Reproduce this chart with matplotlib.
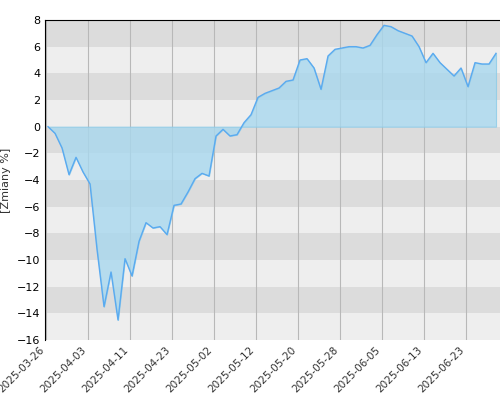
import matplotlib
matplotlib.use("Agg")
import matplotlib.pyplot as plt

values = [0, -0.5, -1.6, -3.6, -2.3, -3.4, -4.3, -9.2, -13.5, -10.9, -14.5, -9.9, -11.2, -8.6,
          -7.2, -7.6, -7.5, -8.1, -5.9, -5.8, -4.9, -3.9, -3.5, -3.7, -0.7, -0.2, -0.7, -0.6,
          0.3, 0.9, 2.2, 2.5, 2.7, 2.9, 3.4, 3.5, 5.0, 5.1, 4.4, 2.8, 5.3, 5.8, 5.9, 6.0, 6.0,
          5.9, 6.1, 6.9, 7.6, 7.5, 7.2, 7.0, 6.8, 6.0, 4.8, 5.5, 4.8, 4.3, 3.8, 4.4, 3.0, 4.8,
          4.7, 4.7, 5.5]
tick_labels = ["2025-03-26", "2025-04-03", "2025-04-11", "2025-04-23", "2025-05-02", "2025-05-12",
               "2025-05-20", "2025-05-28", "2025-06-05", "2025-06-13", "2025-06-23"]
yticks = list(range(-16, 9, 2))

fig = plt.figure(figsize=(5, 4), dpi=100)
ax = fig.add_axes([0.09, 0.15, 0.91, 0.80])
x = list(range(len(values)))
ax.set_xlim(-0.43, len(values) - 0.43)
ax.set_ylim(-16, 8)
for lo in range(-16, 8, 2):
    dark = (lo // 2) % 2 == 1
    ax.axhspan(lo, lo + 2, color="#dcdcdc" if dark else "#eeeeee", lw=0, zorder=0)
tpos = list(range(0, len(values), 6))[:len(tick_labels)]
for t in tpos:
    ax.axvline(t - 0.3, color="#b8b8b8", lw=0.8, zorder=1)
ax.fill_between(x, values, 0, facecolor="#a8d8ee", alpha=0.8, edgecolor="#8ccbe8", lw=0.8, zorder=2)
ax.plot(x, values, color="#5aaaf0", lw=1, zorder=3)
ax.set_xticks([t - 0.3 for t in tpos])
ax.set_xticklabels(tick_labels, rotation=45, ha="right", fontsize=7.5, color="#333333")
ax.set_yticks(yticks)
ax.tick_params(axis="y", labelsize=8, length=0)
ax.tick_params(axis="x", length=0)
ax.set_ylabel("[Zmiany %]", fontsize=8, color="#333333")
for s in ["right", "bottom"]:
    ax.spines[s].set_visible(False)
ax.spines["left"].set_color("black")
ax.spines["top"].set_color("black")
fig.savefig("out.png")
